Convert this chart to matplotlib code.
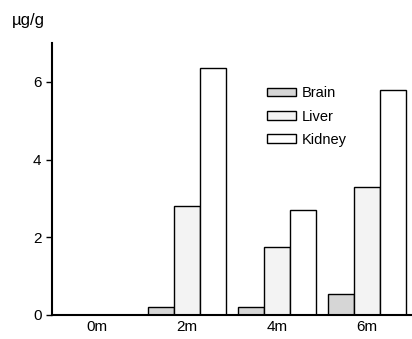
import matplotlib.pyplot as plt
import numpy as np

plt.rcParams['font.family'] = ['Liberation Sans', 'DejaVu Sans']

# data
months = ['0m', '2m', '4m', '6m']
brain = [0.0, 0.2, 0.2, 0.54]
liver = [0.0, 2.8, 1.75, 3.3]
kidney = [0.0, 6.35, 2.7, 5.8]

fig = plt.figure(figsize=(4.12, 3.39), dpi=100)
ax = fig.add_axes([0.126, 0.071, 0.874, 0.802])

x = np.arange(len(months))
w = 0.29
ax.bar(x - w, brain, w, color='#d6d6d6', edgecolor='black', linewidth=1, label='Brain')
ax.bar(x, liver, w, color='#f3f3f3', edgecolor='black', linewidth=1, label='Liver')
ax.bar(x + w, kidney, w, color='white', edgecolor='black', linewidth=1, label='Kidney')

ax.set_xlim(-0.5, 3.5)
ax.set_ylim(0, 7)
ax.set_yticks([0, 2, 4, 6])
ax.set_xticks(x)
ax.set_xticklabels(months, fontsize=11)
ax.tick_params(axis='x', length=0, pad=4)
ax.tick_params(axis='y', labelsize=11, length=4, width=1, direction='out')
ax.spines['top'].set_visible(False)
ax.spines['right'].set_visible(False)
ax.spines['left'].set_linewidth(1.5)
ax.spines['bottom'].set_linewidth(1.5)

fig.text(0.03, 0.925, 'µg/g', fontsize=12)

ax.legend(loc='upper left', bbox_to_anchor=(0.56, 0.89), frameon=False, fontsize=10.5,
          handlelength=2.0, handleheight=0.55, handletextpad=0.4, labelspacing=0.65)

fig.savefig('out.png', dpi=100)
